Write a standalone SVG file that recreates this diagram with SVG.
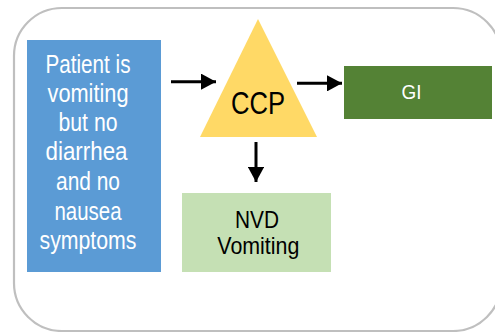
<svg xmlns="http://www.w3.org/2000/svg" width="495" height="332" viewBox="0 0 495 332">
<defs>
<marker id="ah" markerWidth="5" markerHeight="5.4" refX="5" refY="2.7" orient="auto" markerUnits="strokeWidth">
<path d="M0,0 L5,2.7 L0,5.4 Z" fill="#000"/>
</marker>
<style>
text{font-family:"Liberation Sans Narrow","Liberation Sans",Arial,sans-serif;text-anchor:middle}
.w{fill:#fff;font-size:25.5px}
.k{fill:#000}
.c line{stroke:#000;stroke-width:3;marker-end:url(#ah)}
</style>
</defs>
<rect x="14" y="8" width="487" height="323" rx="48" ry="48" fill="#fff" stroke="#bfbfbf" stroke-width="2.2"/>
<g id="patient">
<rect x="27" y="40" width="134" height="232" fill="#5b9bd5"/>
<text class="w" x="88" y="73" textLength="85" lengthAdjust="spacingAndGlyphs">Patient is</text>
<text class="w" x="88" y="102" textLength="81" lengthAdjust="spacingAndGlyphs">vomiting</text>
<text class="w" x="88" y="131" textLength="59" lengthAdjust="spacingAndGlyphs">but no</text>
<text class="w" x="86.5" y="160" textLength="82" lengthAdjust="spacingAndGlyphs">diarrhea</text>
<text class="w" x="88" y="190" textLength="64" lengthAdjust="spacingAndGlyphs">and no</text>
<text class="w" x="88" y="219.5" textLength="67" lengthAdjust="spacingAndGlyphs">nausea</text>
<text class="w" x="88" y="248.5" textLength="97" lengthAdjust="spacingAndGlyphs">symptoms</text>
</g>
<g id="ccp">
<polygon points="258,19 200,137 317,137" fill="#ffd966"/>
<text class="k" x="258" y="114" font-size="31" textLength="54" lengthAdjust="spacingAndGlyphs">CCP</text>
</g>
<g id="gi">
<rect x="344" y="66" width="148" height="53" fill="#548235"/>
<text x="411.5" y="99" fill="#fff" font-size="20.5" textLength="20" lengthAdjust="spacingAndGlyphs">GI</text>
</g>
<g id="nvd">
<rect x="182" y="193" width="149" height="79" fill="#c5e0b4"/>
<text class="k" x="257" y="227.5" font-size="24.5" textLength="44" lengthAdjust="spacingAndGlyphs">NVD</text>
<text class="k" x="258.3" y="254" font-size="24.5" textLength="82" lengthAdjust="spacingAndGlyphs">Vomiting</text>
</g>
<g class="c" id="connectors">
<line x1="171" y1="81.7" x2="216" y2="81.7"/>
<line x1="297" y1="83.3" x2="342" y2="83.3"/>
<line x1="256" y1="142" x2="256" y2="182"/>
</g>
</svg>
